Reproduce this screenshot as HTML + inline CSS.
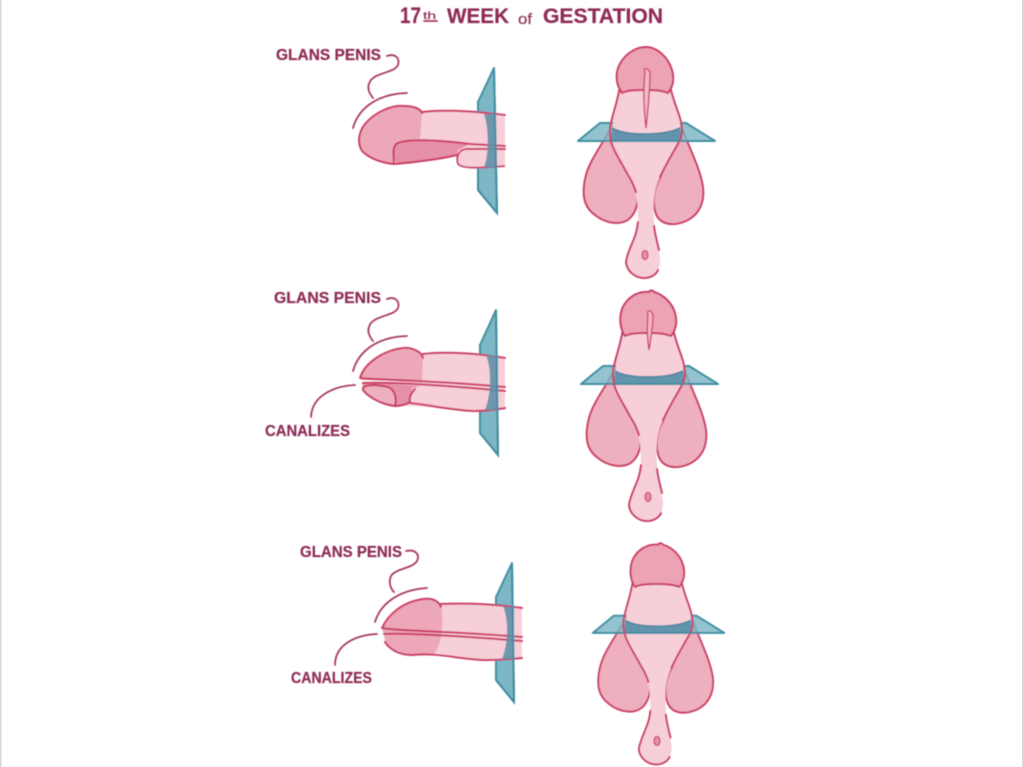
<!DOCTYPE html>
<html><head><meta charset="utf-8"><style>
html,body{margin:0;padding:0;background:#fff;width:1024px;height:767px;overflow:hidden}
svg{display:block}
text{font-family:"Liberation Sans",sans-serif;fill:#8f2c55;stroke:#8f2c55;stroke-width:.2}
.o{fill:none;stroke:#cb3c65;stroke-width:2;stroke-linecap:round;stroke-linejoin:round}
.c{fill:none;stroke:#a83a62;stroke-width:1.8;stroke-linecap:round;stroke-linejoin:round}
.pl{fill:#7db6c4;stroke:#3f8ea3;stroke-width:2;stroke-linejoin:round}
.bd{fill:#5f90aa;opacity:.9}
</style></head><body>
<svg width="1024" height="767" viewBox="0 0 1024 767" xmlns="http://www.w3.org/2000/svg">
<defs>
<filter id="b"><feGaussianBlur stdDeviation=".6"/></filter>
<g id="front">
 <!-- lobes -->
 <path d="M612 126C602 145 590 160 586 175C581 195 584 207 595 215C605 223 622 227 631 217C637 210 639 200 637 190L625 150Z" fill="#eeb0be" stroke="#cb3c65" stroke-width="2"/>
 <path d="M682 128C690 150 700 168 703 187C705 205 697 216 686 221C672 227 660 224 656 214C652 203 653 190 660 178L670 150Z" fill="#eeb0be" stroke="#cb3c65" stroke-width="2"/>
 <!-- shaft and stalk -->
 <path d="M620 86C617 105 612 115 610 128C610 145 620 160 628 175C636 188 638 200 638 222C637 238 628 248 626 262C627 272 636 278 644 278C654 278 661 270 660 258C658 245 654 235 654 220C653 200 654 190 660 177C668 160 681 145 682 130C682 118 674 105 670 86L646 80Z" fill="#f6cfd8"/>
 <path d="M638 222C637 238 628 248 626 262C627 272 636 278 644 278C650 278 656 275 658 270M654 226C655 235 657 242 659 250" class="o"/>
 <path d="M628 175C632 181 634 186 636 192M660 177C668 160 676 148 680 140M628 175C620 160 613 150 611 141" class="o"/>
 <!-- plane -->
 <path class="pl" fill-opacity=".85" d="M578 141L600 123H686L715 141Z" style="fill-opacity:.82"/>
 <path d="M613 121H680V128C670 133 655 134 645 134C632 134 620 133 613 128Z" fill="#f6cfd8"/>
 <path d="M612 128C620 133 632 134 645 134C655 134 670 133 680 128L682 140H611Z" class="bd"/>
 <path d="M612 128C620 133 632 134 645 134C655 134 670 133 680 128" fill="none" stroke="#4f86a3" stroke-width="1.8"/>
 <path d="M620 86C617 105 612 115 610 128C610 132 610 137 611 141" class="o"/>
 <path d="M670 86C674 105 682 118 682 130C682 134 681 137 680 140" class="o"/>
</g>
<g id="gl1">
 <path d="M622 93C617 86 615 78 618 68C623 55 635 47 646 47C657 47 668 57 672 70C675 80 672 88 668 93C660 90 652 90 646 90C636 90 628 90 622 93Z" fill="#eca3b4" stroke="#cb3c65" stroke-width="2" stroke-linejoin="round"/>
</g>
<g id="gl2">
 <path d="M622 93C617 86 616 75 619 66C624 54 635 48 646 49C647 47 650 47 651 49C661 52 669 60 672 70C675 80 672 88 668 93C660 90 652 90 646 90C636 90 628 90 622 93Z" fill="#eca3b4" stroke="#cb3c65" stroke-width="2" stroke-linejoin="round"/>
</g>
</defs>
<rect width="1024" height="767" fill="#fff"/>
<rect x="0" y="0" width="1.5" height="767" fill="#d8d8d8"/>
<rect x="1022" y="0" width="2" height="767" fill="#d8d8d8"/>
<g filter="url(#b)">

<!-- Title -->
<text x="400" y="23" font-size="22" font-weight="700" textLength="21" lengthAdjust="spacingAndGlyphs">17</text>
<text x="423" y="19" font-size="10" font-weight="400" textLength="13" lengthAdjust="spacingAndGlyphs">th</text>
<path d="M424 21H437" class="c" stroke-width="1"/>
<text x="447" y="23" font-size="21" font-weight="700" textLength="62" lengthAdjust="spacingAndGlyphs">WEEK</text>
<text x="518" y="24" font-size="15" style="font-weight:400" textLength="14" lengthAdjust="spacingAndGlyphs">of</text>
<text x="543" y="23" font-size="21" font-weight="700" textLength="120" lengthAdjust="spacingAndGlyphs">GESTATION</text>

<!-- PANEL 1 side -->
<path class="pl" d="M494 68L478 102V190L497 213Z"/>
<path d="M420 111C450 109 480 112 505 115V166L478 168Q458 168 457 156L395 163L400 140Z" fill="#f6cfd8"/>
<path d="M395 144C405 138 440 140 470 144L458 150L457 155C445 158 420 162 396 163C394 157 393 150 395 144Z" fill="#e690a7"/>
<path d="M403 106C392 105 375 112 365 124C358 133 357 145 363 152C372 160 384 163 394 164C394 155 392 150 396 144C402 140 410 140 420 139L422 113C420 108 412 106 403 106Z" fill="#eca8b8"/>
<path d="M422 113C420 108 412 106 403 106C392 105 375 112 365 124C358 133 357 145 363 152C372 160 384 163 394 164" class="o"/>
<path d="M422 112C450 109 480 112 505 115" class="o"/>
<path d="M394 164C394 155 392 150 396 144C405 138 440 140 470 144L505 146" class="o" stroke-width="1.8"/>
<path d="M394 164C420 162 445 158 457 155" class="o" stroke-width="1.4"/>
<path d="M466 149C458 150 456 158 458 164C462 169 480 168 505 166" fill="#f6cfd8" stroke="#cb3c65" stroke-width="1.8"/>
<path d="M466 149L505 149" class="o" stroke-width="1.8"/>
<path d="M484 114C489 128 489 155 484 167L496 168V114Z" class="bd"/>
<path d="M478 102V112M478 168V190L497 213L494 68" fill="none" stroke="#3f8ea3" stroke-width="2"/>

<text x="276" y="60" font-size="15.5" font-weight="700" textLength="105" lengthAdjust="spacingAndGlyphs">GLANS PENIS</text>
<path d="M387 56C395 53 400 58 398 65C394 73 378 72 371 80C366 87 369 93 373 98" class="c"/>
<path d="M353 128C358 110 375 94 407 93" class="c"/>

<!-- PANEL 1 front -->
<use href="#front"/>
<use href="#gl1"/>
<path d="M645 72C643 68 647 67 650 72C650 88 648 110 646 128C644 110 643 88 645 72Z" fill="#f3b8c6" stroke="#cb3c65" stroke-width="1.3"/>

<!-- PANEL 2 side -->
<path class="pl" d="M496 310L480 345V433L498 455Z"/>
<path d="M423 354C450 351 480 354 505 358V408L473 411C450 410 420 405 395 406L400 380Z" fill="#f6cfd8"/>
<path d="M360 378C365 365 380 353 403 348C412 347 420 350 423 356L422 381L362 380Z" fill="#eca8b8"/>
<path d="M362 382L420 386L412 388L410 403C404 405 400 406 395 406L363 388Z" fill="#e690a7"/>
<path d="M363 388C365 385 375 384 388 387C395 390 397 398 395 406C385 405 370 399 363 390Z" fill="#eeb0be" stroke="#cb3c65" stroke-width="2"/>
<path d="M423 358C422 352 412 347 403 348C385 350 365 362 360 378C375 380 430 380 505 387" class="o"/>
<path d="M423 354C450 351 480 354 505 358" class="o"/>
<path d="M363 383C385 382 430 384 505 391" class="o" stroke-width="1.6"/>
<path d="M395 406C400 406 408 404 410 402" class="o"/>
<path d="M415 389C411 393 409 398 410 403C430 405 450 410 473 411C485 411 495 410 505 408" class="o"/>
<path d="M486 355C492 370 491 395 485 410L498 410V356Z" class="bd"/>
<path d="M496 310L498 455L480 433V412M480 345V354" fill="none" stroke="#3f8ea3" stroke-width="2"/>

<text x="274" y="303" font-size="15.5" font-weight="700" textLength="107" lengthAdjust="spacingAndGlyphs">GLANS PENIS</text>
<path d="M387 299C395 296 400 301 398 308C394 316 378 315 371 323C366 330 369 336 373 341" class="c"/>
<path d="M353 371C358 353 375 337 407 336" class="c"/>
<path d="M355 385C335 386 312 395 311 417" class="c"/>
<text x="265" y="436" font-size="15.5" font-weight="700" textLength="85" lengthAdjust="spacingAndGlyphs">CANALIZES</text>

<!-- PANEL 2 front -->
<use href="#front" transform="translate(3 243)"/>
<use href="#gl2" transform="translate(3 243)"/>
<path d="M648 315C646 310 651 309 653 315C653 325 651 338 649 350C647 338 647 325 648 315Z" fill="#f3b8c6" stroke="#cb3c65" stroke-width="1.3"/>

<!-- PANEL 3 side -->
<path class="pl" d="M512 563L496 597V680L514 702Z"/>
<path d="M440 604C465 603 495 604 522 608V658L487 660C465 660 450 654 430 653Z" fill="#f6cfd8"/>
<path d="M382 628C388 615 402 604 423 599C431 598 438 600 441 606C444 620 442 645 434 654C420 655 410 655 403 653C392 650 385 645 385 640Z" fill="#eca8b8"/>
<path d="M441 607C438 600 431 598 423 599C402 602 388 615 382 628C395 631 450 631 522 637" class="o"/>
<path d="M440 604C465 603 495 604 522 608" class="o"/>
<path d="M384 634C400 633 450 635 522 641" class="o" stroke-width="1.6"/>
<path d="M385 642C390 650 400 655 412 655C440 652 460 660 487 660C500 660 510 659 522 658" class="o"/>
<path d="M503 606C509 620 508 645 502 659L514 659V608Z" class="bd"/>
<path d="M512 563L514 702L496 680V660M496 597V605" fill="none" stroke="#3f8ea3" stroke-width="2"/>

<text x="300" y="557" font-size="15.5" font-weight="700" textLength="102" lengthAdjust="spacingAndGlyphs">GLANS PENIS</text>
<path d="M406 551C416 549 420 555 417 561C412 569 396 568 391 576C388 583 391 589 394 592" class="c"/>
<path d="M375 622C380 605 397 590 427 588" class="c"/>
<path d="M377 634C355 635 335 645 335 665" class="c"/>
<text x="291" y="683" font-size="15.5" font-weight="700" textLength="81" lengthAdjust="spacingAndGlyphs">CANALIZES</text>

<!-- PANEL 3 front -->
<use href="#front" transform="translate(37.9 497.6) scale(.96)"/>
<use href="#gl2" transform="translate(37.9 497.6) scale(.96)"/>

<!-- small openings -->
<ellipse cx="645" cy="255" rx="3" ry="4.5" fill="#e690a7" stroke="#cb3c65" stroke-width="1.2"/>
<ellipse cx="648" cy="497" rx="3" ry="4.5" fill="#e690a7" stroke="#cb3c65" stroke-width="1.2"/>
<ellipse cx="657" cy="741" rx="3" ry="4.5" fill="#e690a7" stroke="#cb3c65" stroke-width="1.2"/>
</g>
</svg>
</body></html>
